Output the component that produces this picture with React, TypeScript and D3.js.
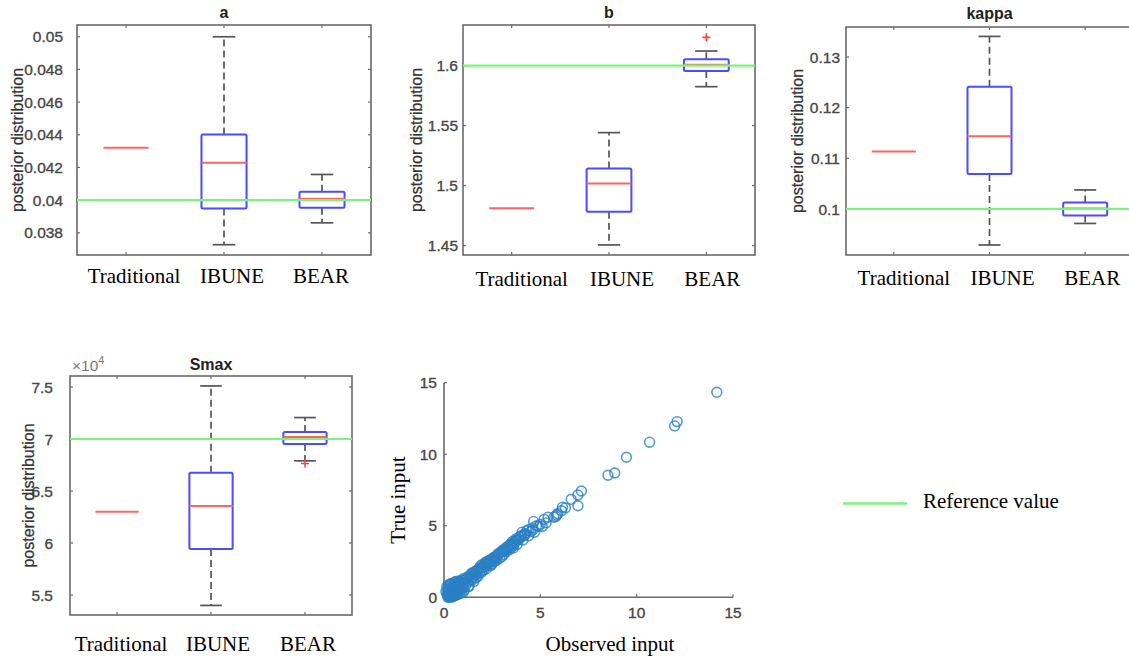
import React, { useEffect, useRef } from 'react';
import * as d3 from 'd3';

const categories = ['Traditional', 'IBUNE', 'BEAR'];

// box stats per category: [lower whisker, q1, median, q3, upper whisker]
const aStats = [
    [0.0432, 0.0432, 0.0432, 0.0432, 0.0432],
    [0.03727, 0.03949, 0.04229, 0.04402, 0.05],
    [0.03861, 0.03953, 0.04008, 0.04051, 0.04157],
];
const aOutliers = [[], [], []];
const aTicks = [0.038, 0.04, 0.042, 0.044, 0.046, 0.048, 0.05];
const aDomain = [0.03664, 0.05072];
const aReference = 0.04;

const bStats = [
    [1.4811, 1.4811, 1.4811, 1.4811, 1.4811],
    [1.4506, 1.4783, 1.5017, 1.5144, 1.5442],
    [1.5825, 1.5956, 1.6008, 1.6053, 1.6122],
];
const bOutliers = [[], [], [1.6236]];
const bTicks = [1.45, 1.5, 1.55, 1.6];
const bDomain = [1.4422, 1.6339];
const bReference = 1.6;

const kappaStats = [
    [0.11133, 0.11133, 0.11133, 0.11133, 0.11133],
    [0.09288, 0.10692, 0.11437, 0.12413, 0.13407],
    [0.09713, 0.0987, 0.1001, 0.10125, 0.10375],
];
const kappaOutliers = [[], [], []];
const kappaTicks = [0.1, 0.11, 0.12, 0.13];
const kappaDomain = [0.0909, 0.13593];
const kappaReference = 0.1;

const smaxStats = [
    [63000, 63000, 63000, 63000, 63000],
    [54000, 59420, 63550, 66750, 75100],
    [67900, 69530, 70200, 70680, 72060],
];
const smaxOutliers = [[], [], [67650]];
const smaxTicks = [55000, 60000, 65000, 70000, 75000];
const smaxDomain = [53080, 76056];
const smaxReference = 70000;

// scatter: observed vs true input
const observedInput = [
    0.15, 0.2, 0.2, 0.25, 0.25, 0.3, 0.3, 0.3, 0.35, 0.35, 0.4, 0.4, 0.4, 0.45, 0.45, 0.5, 0.5, 0.5,
    0.55, 0.55, 0.55, 0.6, 0.6, 0.6, 0.65, 0.65, 0.7, 0.7, 0.75, 0.75, 0.8, 0.8, 0.85, 0.9, 0.9, 0.95,
    1.0, 1.0, 1.0, 1.05, 1.1, 1.15, 1.2, 1.25, 1.3, 1.35, 1.4, 1.45, 1.5, 1.55, 1.6, 1.65, 1.7, 1.75,
    1.8, 1.85, 1.9, 1.95, 2.0, 2.05, 2.1, 2.15, 2.2, 2.25, 2.3, 2.35, 2.4, 2.5, 2.55, 2.6, 2.7, 2.75,
    2.8, 2.9, 2.95, 3.0, 3.05, 3.1, 3.2, 3.25, 3.3, 3.4, 3.45, 3.5, 3.55, 3.6, 3.7, 3.75, 3.8, 3.9,
    4.0, 4.05, 4.1, 4.2, 4.3, 4.4, 4.5, 4.6, 4.65, 4.7, 4.9, 5.0, 5.1, 5.3, 5.4, 5.7, 5.8, 5.85,
    5.9, 6.1, 6.15, 6.3, 6.6, 6.95, 6.95, 7.13, 8.51, 8.86, 9.47, 10.67, 11.97, 12.1, 14.16,
    0.1, 0.15, 0.2, 0.25, 0.3, 0.35, 0.4, 0.45, 0.5, 0.55, 0.6, 0.65, 0.7, 0.75, 0.8, 0.85, 0.9, 0.95,
    1.0, 1.1, 1.2, 1.3, 1.4, 1.5, 1.6, 1.7, 1.8, 1.9, 2.0, 2.1, 2.2, 2.3, 2.4, 2.5, 2.6, 2.7, 2.8, 2.9,
    3.0, 3.1, 3.2, 3.3, 3.4, 3.5, 3.6, 3.7, 3.8, 3.9, 4.0, 4.2, 4.4, 4.6, 4.8,
    0.2, 0.3, 0.4, 0.5, 0.6, 0.7, 0.8, 1.27, 1.45, 1.65, 1.95, 2.2, 2.45, 2.65, 3.15, 3.6, 4.15, 5.2,
];
const trueInput = [
    0.25, 0.1, 0.6, 0.3, 0.0, 0.05, 0.5, 0.85, 0.2, 0.95, 0.7, 0.35, 0.0, 0.1, 0.45, 0.55, 0.9, 0.2,
    0.3, 1.05, 0.7, 0.75, 0.15, 0.45, 0.5, 0.9, 1.0, 0.4, 0.8, 1.15, 0.6, 0.25, 1.1, 0.3, 0.85, 1.2,
    0.7, 1.0, 0.35, 0.5, 1.25, 0.9, 1.4, 1.1, 0.8, 1.5, 1.25, 1.7, 1.4, 1.1, 1.75, 1.55, 1.9, 1.45,
    2.0, 1.7, 2.2, 1.85, 2.3, 1.9, 2.15, 2.45, 2.0, 2.3, 2.55, 2.2, 2.6, 2.35, 2.75, 2.5, 2.85, 2.6,
    3.05, 2.75, 3.15, 2.85, 3.3, 3.0, 3.45, 3.2, 3.55, 3.35, 3.7, 3.5, 3.9, 3.6, 3.85, 4.1, 3.7, 4.05,
    4.3, 4.55, 4.0, 4.45, 4.65, 4.3, 4.6, 4.85, 5.3, 4.55, 4.95, 5.1, 4.95, 5.2, 5.6, 5.6, 5.65, 5.75,
    5.85, 6.05, 6.3, 6.25, 6.85, 7.15, 6.4, 7.43, 8.53, 8.69, 9.79, 10.84, 11.98, 12.28, 14.33,
    0.4, 0.75, 0.15, 0.9, 0.6, 0.1, 0.95, 0.65, 0.35, 0.8, 1.1, 0.2, 0.6, 0.45, 0.95, 0.55, 1.05, 0.6,
    1.3, 1.05, 1.3, 1.45, 1.6, 1.7, 1.6, 1.8, 1.95, 2.05, 2.1, 2.3, 2.4, 2.35, 2.5, 2.7, 2.8, 2.75, 2.95, 3.1,
    3.2, 3.3, 3.35, 3.4, 3.6, 3.75, 3.75, 3.95, 4.0, 4.2, 4.2, 4.35, 4.75, 4.7, 5.0,
    0.0, 0.15, 0.25, 0.05, 0.4, 0.2, 0.5, 0.74, 1.2, 1.35, 1.75, 2.35, 2.25, 2.55, 3.25, 3.45, 4.35, 5.45,
];
const scatterTicks = [0, 5, 10, 15];

const FRAME = '#6a6a6a';
const TICK_TEXT = '#474747';
const SANS = 'Liberation Sans, Arial, sans-serif';
const SERIF = 'Liberation Serif, Times New Roman, serif';
const REF_GREEN = '#7cf47c';

const panels = [
    { title: 'a', stats: aStats, outliers: aOutliers, ticks: aTicks, domain: aDomain, reference: aReference,
      left: 77, top: 25, right: 371, bottom: 255, labelGap: 14, yLabelX: 17, catBaseline: 283, catDx: [8, 8, -1], titleY: 18 },
    { title: 'b', stats: bStats, outliers: bOutliers, ticks: bTicks, domain: bDomain, reference: bReference,
      left: 463, top: 25, right: 755, bottom: 255, labelGap: 5, yLabelX: 416, catBaseline: 286, catDx: [10, 13, 6], titleY: 18 },
    { title: 'kappa', stats: kappaStats, outliers: kappaOutliers, ticks: kappaTicks, domain: kappaDomain, reference: kappaReference,
      left: 846, top: 27, right: 1133, bottom: 255, labelGap: 6, yLabelX: 797, catBaseline: 285, catDx: [10, 13, 7], titleY: 19 },
    { title: 'Smax', stats: smaxStats, outliers: smaxOutliers, ticks: smaxTicks, domain: smaxDomain, reference: smaxReference,
      left: 70, top: 376, right: 352, bottom: 615, labelGap: 17, yLabelX: 28, catBaseline: 651, catDx: [4, 7, 3], titleY: 370,
      tickScale: 1e4 },
];

const drawBoxPanel = function (svg, p) {
    const g = svg.append('g');
    const x = d3.scaleLinear().domain([0.5, 3.5]).range([p.left, p.right]);
    const y = d3.scaleLinear().domain(p.domain).range([p.bottom, p.top]);
    const boxW = x(1.46) - x(1);
    const capW = boxW / 2;
    const scale = p.tickScale || 1;

    // frame
    g.append('rect')
        .attr('x', p.left).attr('y', p.top)
        .attr('width', p.right - p.left).attr('height', p.bottom - p.top)
        .attr('fill', 'none').attr('stroke', FRAME).attr('stroke-width', 1.6);

    // y ticks (both sides, inward)
    p.ticks.forEach((t) => {
        g.append('line').attr('x1', p.left).attr('x2', p.left + 3)
            .attr('y1', y(t)).attr('y2', y(t)).attr('stroke', FRAME).attr('stroke-width', 1.2);
        g.append('line').attr('x1', p.right).attr('x2', p.right - 3)
            .attr('y1', y(t)).attr('y2', y(t)).attr('stroke', FRAME).attr('stroke-width', 1.2);
        g.append('text')
            .attr('x', p.left - p.labelGap).attr('y', y(t)).attr('dy', '0.36em')
            .attr('text-anchor', 'end')
            .style('font-family', SANS).style('font-size', '15.5px')
            .attr('fill', TICK_TEXT).attr('stroke', TICK_TEXT).attr('stroke-width', 0.35)
            .text(`${+(t / scale).toFixed(4)}`);
    });

    // x ticks (top and bottom, inward) + category labels
    categories.forEach((c, i) => {
        const cx = x(i + 1);
        g.append('line').attr('x1', cx).attr('x2', cx)
            .attr('y1', p.bottom).attr('y2', p.bottom - 3).attr('stroke', FRAME).attr('stroke-width', 1.2);
        g.append('line').attr('x1', cx).attr('x2', cx)
            .attr('y1', p.top).attr('y2', p.top + 3).attr('stroke', FRAME).attr('stroke-width', 1.2);
        g.append('text')
            .attr('x', cx + p.catDx[i]).attr('y', p.catBaseline)
            .attr('text-anchor', 'middle')
            .style('font-family', SERIF).style('font-size', '21px')
            .attr('fill', '#000')
            .text(c);
    });

    // boxes
    p.stats.forEach((s, i) => {
        const [lo, q1, med, q3, hi] = s;
        const cx = x(i + 1);
        if (hi > q3) {
            g.append('line').attr('x1', cx).attr('x2', cx).attr('y1', y(q3)).attr('y2', y(hi))
                .attr('stroke', '#555').attr('stroke-width', 1.7).attr('stroke-dasharray', '7,4');
            g.append('line').attr('x1', cx - capW / 2).attr('x2', cx + capW / 2).attr('y1', y(hi)).attr('y2', y(hi))
                .attr('stroke', '#555').attr('stroke-width', 1.7);
        }
        if (lo < q1) {
            g.append('line').attr('x1', cx).attr('x2', cx).attr('y1', y(q1)).attr('y2', y(lo))
                .attr('stroke', '#555').attr('stroke-width', 1.7).attr('stroke-dasharray', '7,4');
            g.append('line').attr('x1', cx - capW / 2).attr('x2', cx + capW / 2).attr('y1', y(lo)).attr('y2', y(lo))
                .attr('stroke', '#555').attr('stroke-width', 1.7);
        }
        if (q3 > q1) {
            g.append('rect')
                .attr('x', cx - boxW / 2).attr('y', y(q3))
                .attr('width', boxW).attr('height', y(q1) - y(q3))
                .attr('rx', 1.5)
                .attr('fill', 'none').attr('stroke', '#4b4bff').attr('stroke-width', 2);
        }
        g.append('line').attr('x1', cx - boxW / 2).attr('x2', cx + boxW / 2).attr('y1', y(med)).attr('y2', y(med))
            .attr('stroke', '#ff6464').attr('stroke-width', 2);

        p.outliers[i].forEach((o) => {
            g.append('path')
                .attr('d', `M${cx - 4},${y(o)}H${cx + 4}M${cx},${y(o) - 4}V${y(o) + 4}`)
                .attr('stroke', '#ff4040').attr('stroke-width', 1.6);
        });
    });

    // reference line
    g.append('line').attr('x1', p.left).attr('x2', p.right)
        .attr('y1', y(p.reference)).attr('y2', y(p.reference))
        .attr('stroke', REF_GREEN).attr('stroke-width', 2.2);

    // title
    g.append('text')
        .attr('x', (p.left + p.right) / 2).attr('y', p.titleY)
        .attr('text-anchor', 'middle')
        .style('font-family', SANS).style('font-size', '16px').style('font-weight', 'bold')
        .attr('fill', '#222')
        .text(p.title);

    // y label
    const cy = (p.top + p.bottom) / 2;
    g.append('text')
        .attr('transform', `translate(${p.yLabelX},${cy}) rotate(-90)`)
        .attr('dy', '0.35em')
        .attr('text-anchor', 'middle')
        .style('font-family', SANS).style('font-size', '16px')
        .attr('fill', '#333').attr('stroke', '#333').attr('stroke-width', 0.25)
        .text('posterior distribution');

    if (p.tickScale) {
        const ex = g.append('text')
            .attr('x', p.left + 2).attr('y', p.top - 5)
            .style('font-family', SANS).style('font-size', '15.5px')
            .attr('fill', '#777');
        ex.append('tspan').text('\u00d710');
        ex.append('tspan').attr('dy', -7).style('font-size', '11px').text('4');
    }
};

const drawScatter = function (svg) {
    const left = 444, right = 733, top = 382.7, bottom = 597.3;
    const g = svg.append('g');
    const x = d3.scaleLinear().domain([0, 15]).range([left, right]);
    const y = d3.scaleLinear().domain([0, 15]).range([bottom, top]);

    g.append('path')
        .attr('d', `M${left},${top}V${bottom}H${right}`)
        .attr('fill', 'none').attr('stroke', FRAME).attr('stroke-width', 1.6);

    scatterTicks.forEach((t) => {
        g.append('line').attr('x1', x(t)).attr('x2', x(t)).attr('y1', bottom).attr('y2', bottom - 3)
            .attr('stroke', FRAME).attr('stroke-width', 1.2);
        g.append('line').attr('x1', left).attr('x2', left + 3).attr('y1', y(t)).attr('y2', y(t))
            .attr('stroke', FRAME).attr('stroke-width', 1.2);
        g.append('text')
            .attr('x', x(t)).attr('y', bottom + 21)
            .attr('text-anchor', 'middle')
            .style('font-family', SANS).style('font-size', '15.5px')
            .attr('fill', TICK_TEXT).attr('stroke', TICK_TEXT).attr('stroke-width', 0.35)
            .text(t);
        g.append('text')
            .attr('x', left - 7).attr('y', y(t)).attr('dy', '0.36em')
            .attr('text-anchor', 'end')
            .style('font-family', SANS).style('font-size', '15.5px')
            .attr('fill', TICK_TEXT).attr('stroke', TICK_TEXT).attr('stroke-width', 0.35)
            .text(t);
    });

    g.append('g')
        .selectAll('circle')
        .data(observedInput.map((v, i) => [v, trueInput[i]]))
        .enter()
        .append('circle')
        .attr('cx', (d) => x(d[0]))
        .attr('cy', (d) => y(d[1]))
        .attr('r', 4.9)
        .attr('fill', 'none')
        .attr('stroke', '#2a7fc4')
        .attr('stroke-opacity', 0.8)
        .attr('stroke-width', 1.6);

    g.append('text')
        .attr('x', 610).attr('y', 651)
        .attr('text-anchor', 'middle')
        .style('font-family', SERIF).style('font-size', '21px')
        .attr('fill', '#000')
        .text('Observed input');

    g.append('text')
        .attr('transform', `translate(398,${(top + bottom) / 2 + 10}) rotate(-90)`)
        .attr('dy', '0.33em')
        .attr('text-anchor', 'middle')
        .style('font-family', SERIF).style('font-size', '21px')
        .attr('fill', '#000')
        .text('True input');
};

const drawLegend = function (svg) {
    const g = svg.append('g');
    g.append('line').attr('x1', 843).attr('x2', 907).attr('y1', 503.5).attr('y2', 503.5)
        .attr('stroke', REF_GREEN).attr('stroke-width', 2.5);
    g.append('text')
        .attr('x', 923).attr('y', 508)
        .style('font-family', SERIF).style('font-size', '21px')
        .attr('fill', '#000')
        .text('Reference value');
};

const App = () => {
    const svgRef = useRef(null);

    useEffect(() => {
        const svg = d3.select(svgRef.current);
        svg.selectAll('*').remove();
        panels.forEach((p) => drawBoxPanel(svg, p));
        drawScatter(svg);
        drawLegend(svg);
    }, []);

    return (
        <div style={{ position: 'absolute', left: 0, top: 0, width: 1129, height: 658, overflow: 'hidden', background: '#fff' }}>
            <svg ref={svgRef} width={1129} height={658} style={{ display: 'block' }}></svg>
        </div>
    );
};

export default App;
